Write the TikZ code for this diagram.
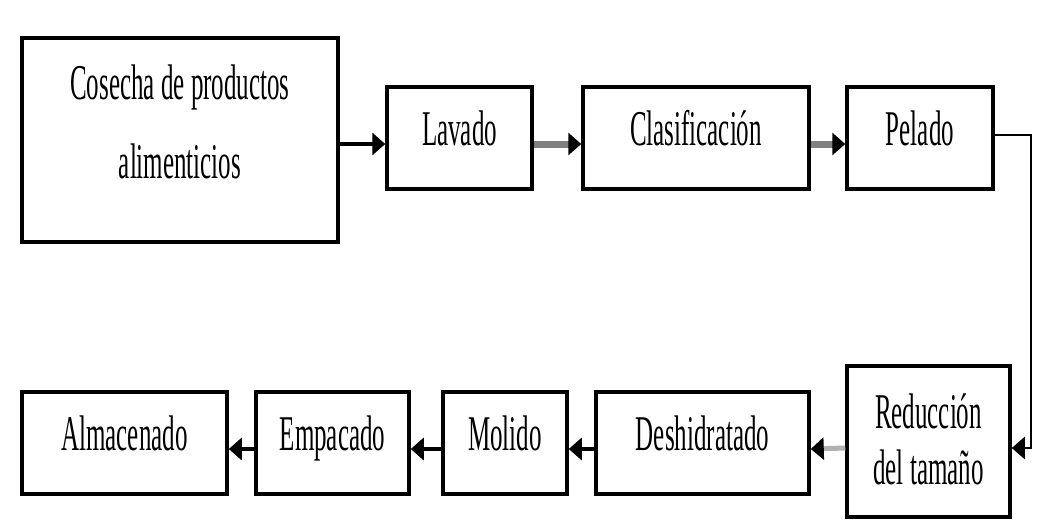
\documentclass[tikz,border=0pt]{standalone}
\usepackage{fontspec}
\setmainfont{Liberation Serif}
\usetikzlibrary{arrows.meta}
\newcommand{\narrow}[1]{\scalebox{0.5}[1]{#1}}
\tikzstyle{box}=[rectangle, draw, line width=3.5pt, minimum height=102pt, inner sep=0pt, font=\fontsize{50}{56}\selectfont, text height=33pt, text depth=19pt]
\tikzstyle{tall}=[box, align=center, text depth=0pt]
\tikzstyle{flow}=[line width=3.5pt, -{Triangle[length=13pt, width=22pt, color=black, fill=black]}]
\tikzstyle{flowgray}=[flow, draw=black!50, line width=7pt]
\tikzstyle{flowpale}=[flow, draw=black!30, line width=5pt]
\begin{document}
\begin{tikzpicture}[x=1pt, y=-1pt]
                    \useasboundingbox (0,0) rectangle (1040,531);
                    \node[tall, minimum width=316pt, minimum height=204pt, text height=76pt] (cosecha) at (180, 140) {\narrow{Cosecha de productos}\\[23pt]\narrow{alimenticios}};
                    \node[box, minimum width=145pt] (lavado) at (459.5, 138) {\narrow{Lavado}};
                    \node[box, minimum width=226pt] (clasif) at (696, 138) {\narrow{Clasificación}};
                    \node[box, minimum width=146pt] (pelado) at (920, 138) {\narrow{Pelado}};
                    \node[tall, minimum width=163pt, minimum height=151pt, text height=85pt] (reduc) at (928.5, 441.5) {\narrow{Reducción}\\\narrow{del tamaño}};
                    \node[box, minimum width=213pt] (deshid) at (702.5, 443) {\narrow{Deshidratado}};
                    \node[box, minimum width=124pt] (molido) at (505, 443) {\narrow{Molido}};
                    \node[box, minimum width=153pt] (empac) at (332.5, 443) {\narrow{Empacado}};
                    \node[box, minimum width=205pt] (almac) at (124.5, 443) {\narrow{Almacenado}};
                    \coordinate (turn) at (1031, 135);
                    \draw[flow]      ([yshift=-4pt]cosecha.east) -- ([yshift=-6pt]lavado.west);
                    \draw[flowgray]  ([yshift=-6pt]lavado.east)  -- ([yshift=-6pt]clasif.west);
                    \draw[flowgray]  ([yshift=-6pt]clasif.east)  -- ([yshift=-6pt]pelado.west);
                    \draw[flow, line width=2.5pt] ([yshift=3pt]pelado.east) -- (turn) |- ([yshift=-6.5pt]reduc.east);
                    \draw[flowpale]  ([yshift=-6.5pt]reduc.west) -- ([yshift=-6pt]deshid.east);
                    \draw[flow]      ([yshift=-6pt]deshid.west)  -- ([yshift=-6pt]molido.east);
                    \draw[flow]      ([yshift=-6pt]molido.west)  -- ([yshift=-6pt]empac.east);
                    \draw[flow]      ([yshift=-6pt]empac.west)   -- ([yshift=-6pt]almac.east);
                \end{tikzpicture}
\end{document}
